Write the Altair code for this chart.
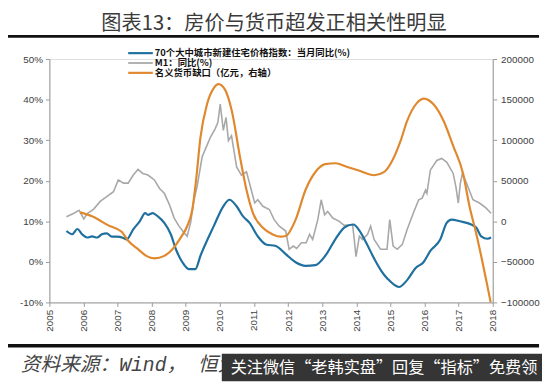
import altair as alt
import pandas as pd

TITLE = "图表13：房价与货币超发正相关性明显"
SOURCE = "资料来源：Wind， 恒大研究院"
WATERMARK = "关注微信“老韩实盘”回复“指标”免费领"

NAME_HOUSE = "70个大中城市新建住宅价格指数：当月同比(%)"
NAME_M1 = "M1：同比(%)"
NAME_GAP = "名义货币缺口（亿元，右轴）"

COLOR_HOUSE = "#1f6f9f"
COLOR_M1 = "#a8a8a8"
COLOR_GAP = "#e0882e"

house_t = [2005.50, 2005.67, 2005.82, 2005.96, 2006.11, 2006.25, 2006.40, 2006.54, 2006.68, 2006.83,
           2006.97, 2007.17, 2007.26, 2007.46, 2007.65, 2007.81, 2007.89, 2008.03, 2008.18, 2008.37,
           2008.56, 2008.71, 2008.90, 2009.09, 2009.28, 2009.43, 2009.82, 2010.10, 2010.28, 2010.49,
           2010.68, 2010.87, 2011.11, 2011.35, 2011.64, 2011.93, 2012.22, 2012.51, 2012.80, 2013.09,
           2013.38, 2013.67, 2013.91, 2014.10, 2014.29, 2014.53, 2014.73, 2014.92, 2015.25, 2015.49,
           2015.74, 2015.97, 2016.17, 2016.46, 2016.65, 2016.79, 2017.04, 2017.37, 2017.52, 2017.66,
           2017.85, 2017.95]
house_v = [7.6, 6.8, 8.1, 6.8, 6.0, 6.3, 6.0, 6.8, 7.0, 6.2,
           6.2, 5.9, 5.5, 8.0, 10.0, 12.0, 11.6, 12.0, 11.2, 9.6,
           6.8, 3.1, -0.1, -1.8, -1.8, 1.5, 8.8, 13.7, 15.3, 13.7,
           11.2, 9.6, 6.3, 4.3, 3.9, 1.9, -0.1, -1.0, -0.8, 1.5,
           5.5, 8.6, 9.2, 7.6, 4.7, 0.7, -2.2, -4.2, -6.2, -4.5,
           -1.5, -0.1, 2.7, 5.5, 9.6, 10.4, 10.0, 9.2, 8.4, 6.3,
           5.7, 6.0]

m1_t = [2005.50, 2005.72, 2005.87, 2006.01, 2006.11, 2006.30, 2006.49, 2006.68, 2006.88, 2007.02,
        2007.17, 2007.31, 2007.46, 2007.60, 2007.74, 2007.89, 2008.08, 2008.23, 2008.37, 2008.52,
        2008.66, 2008.80, 2008.95, 2009.04, 2009.14, 2009.24, 2009.33, 2009.48, 2009.72, 2009.86,
        2009.94, 2010.01, 2010.10, 2010.18, 2010.25, 2010.34, 2010.49, 2010.63, 2010.78, 2010.92,
        2011.02, 2011.11, 2011.26, 2011.45, 2011.59, 2011.74, 2011.93, 2012.03, 2012.15, 2012.25,
        2012.39, 2012.53, 2012.63, 2012.72, 2012.87, 2012.97, 2013.07, 2013.16, 2013.31, 2013.50,
        2013.64, 2013.89, 2013.94, 2013.99, 2014.09, 2014.18, 2014.33, 2014.42, 2014.52, 2014.71,
        2014.90, 2014.98, 2015.08, 2015.20, 2015.35, 2015.49, 2015.69, 2015.83, 2015.93, 2016.03,
        2016.07, 2016.17, 2016.36, 2016.50, 2016.65, 2016.84, 2016.92, 2016.99, 2017.05, 2017.11,
        2017.23, 2017.42, 2017.61, 2017.80, 2017.95]
m1_v = [11.1, 12.0, 12.7, 10.6, 11.9, 13.0, 14.9, 16.1, 17.3, 20.2,
        19.4, 19.4, 21.4, 22.8, 21.8, 21.4, 20.2, 18.1, 16.9, 14.1,
        10.8, 8.8, 7.2, 6.3, 9.6, 15.3, 18.5, 25.9, 30.7, 32.8,
        34.4, 38.9, 32.4, 35.6, 29.9, 31.1, 23.4, 21.4, 22.2, 17.7,
        14.5, 15.3, 13.7, 12.9, 10.4, 8.8, 7.6, 3.1, 3.9, 3.3,
        4.7, 4.7, 6.8, 5.5, 10.4, 15.3, 11.6, 12.4, 10.8, 10.0,
        9.0, 9.2, 5.5, 1.3, 6.3, 5.5, 6.8, 8.8, 5.5, 3.1,
        3.1, 10.4, 3.9, 3.1, 4.3, 8.0, 12.4, 15.3, 15.7, 17.7,
        16.9, 22.6, 25.0, 25.5, 24.6, 21.8, 18.5, 14.5, 19.4, 21.8,
        19.4, 15.3, 14.5, 13.3, 12.0]

gap_t = [2005.90, 2006.25, 2006.73, 2007.12, 2007.31, 2007.60, 2007.84, 2008.08, 2008.37, 2008.61,
         2008.85, 2009.04, 2009.19, 2009.30, 2009.43, 2009.62, 2009.82, 2009.96, 2010.15, 2010.35,
         2010.59, 2010.78, 2010.97, 2011.26, 2011.55, 2011.79, 2011.93, 2012.22, 2012.51, 2012.80,
         2013.09, 2013.40, 2013.70, 2014.05, 2014.53, 2014.82, 2015.06, 2015.30, 2015.49, 2015.78,
         2015.98, 2016.27, 2016.56, 2016.84, 2017.13, 2017.32, 2017.51, 2017.66, 2017.80, 2017.94]
gap_v = [11000, 6100, -5000, -13000, -24000, -34400, -42600, -45700, -42600, -34400,
         -20200, -6100, 14200, 50000, 103400, 144000, 164200, 169100, 162300, 135900,
         79100, 38600, 10200, -8000, -16200, -19000, -18200, 2000, 38600, 60800,
         70500, 71500, 67500, 62900, 56800, 60800, 75100, 99400, 123700, 146000,
         151300, 144000, 123700, 93000, 58900, 18200, -14100, -42600, -70900, -100000]

left_ticks = [-10, 0, 10, 20, 30, 40, 50]
right_ticks = [-100000, -50000, 0, 50000, 100000, 150000, 200000]
year_ticks = list(range(2005, 2019))

house_df = pd.DataFrame({"t": house_t, "v": house_v})
m1_df = pd.DataFrame({"t": m1_t, "v": m1_v})
gap_df = pd.DataFrame({"t": gap_t, "v": gap_v})

AX_FONT = "Liberation Sans"
CJK = "Noto Sans CJK SC"
AX_COLOR = "#9a9a9a"
LBL_COLOR = "#404040"

x_axis = alt.Axis(values=year_ticks, format="d", labelAngle=270, title=None, grid=False,
                  tickSize=4, labelPadding=3, labelFontSize=10, labelFont=AX_FONT,
                  labelColor=LBL_COLOR, domainColor=AX_COLOR, tickColor=AX_COLOR,
                  labelFlush=False, labelOverlap=False)
x_enc = alt.X("t:Q", scale=alt.Scale(domain=[year_ticks[0], year_ticks[-1]], nice=False, zero=False),
              axis=x_axis)

left_scale = alt.Scale(domain=[left_ticks[0], left_ticks[-1]], nice=False, zero=False)
left_axis = alt.Axis(values=left_ticks, labelExpr="datum.value + '%'", orient="left", title=None,
                     grid=False, tickSize=4, labelPadding=3, labelFontSize=10, labelFont=AX_FONT,
                     labelColor=LBL_COLOR, domainColor=AX_COLOR, tickColor=AX_COLOR,
                     labelFlush=False, labelOverlap=False)
right_axis = alt.Axis(values=right_ticks, format="d", orient="right", title=None,
                      grid=False, tickSize=4, labelPadding=4, labelFontSize=10, labelFont=AX_FONT,
                      labelColor=LBL_COLOR, domainColor=AX_COLOR, tickColor=AX_COLOR,
                      labelFlush=False, labelOverlap=False)

m1_line = alt.Chart(m1_df).mark_line(color=COLOR_M1, strokeWidth=1.6).encode(
    x=x_enc, y=alt.Y("v:Q", scale=left_scale, axis=None))
house_line = alt.Chart(house_df).mark_line(color=COLOR_HOUSE, strokeWidth=2.2, interpolate="monotone").encode(
    x=x_enc, y=alt.Y("v:Q", scale=left_scale, axis=left_axis))
gap_line = alt.Chart(gap_df).mark_line(color=COLOR_GAP, strokeWidth=2.2, interpolate="monotone").encode(
    x=x_enc, y=alt.Y("v:Q", scale=alt.Scale(domain=[right_ticks[0], right_ticks[-1]], nice=False, zero=False),
                     axis=right_axis))

one = pd.DataFrame({"k": [0]})

def text_layer(txt, x, y, **kw):
    return alt.Chart(pd.DataFrame({"label": [txt]})).mark_text(**kw).encode(
        x=alt.value(x), y=alt.value(y), text="label:N")

title = text_layer(TITLE, 228, -35, align="center", baseline="middle", fontSize=20.5,
                   font=CJK, color="#3a3a3a")
top_rule = alt.Chart(one).mark_rule(color="#111111", strokeWidth=3).encode(
    x=alt.value(-45), x2=alt.value(497), y=alt.value(-23))
bottom_rule = alt.Chart(one).mark_rule(color="#111111", strokeWidth=3.5).encode(
    x=alt.value(-45), x2=alt.value(497), y=alt.value(291))

legend_layers = []
for i, (nm, col, sw) in enumerate([(NAME_HOUSE, COLOR_HOUSE, 2.2), (NAME_M1, COLOR_M1, 1.8), (NAME_GAP, COLOR_GAP, 2.2)]):
    yy = -6 + i * 10
    legend_layers.append(alt.Chart(one).mark_rule(color=col, strokeWidth=sw).encode(
        x=alt.value(80), x2=alt.value(105), y=alt.value(yy)))
    legend_layers.append(text_layer(nm, 107, yy, align="left", baseline="middle", fontSize=9.5,
                                    fontWeight="bold", font=CJK, color="#111111"))

source = text_layer(SOURCE, -29, 311, align="left", baseline="middle", fontSize=20,
                    font="Liberation Mono, " + CJK, fontStyle="italic", color="#444444")
wm_box = alt.Chart(one).mark_rect(color="#353535").encode(
    x=alt.value(175), x2=alt.value(500), y=alt.value(299), y2=alt.value(327))
wm_text = text_layer(WATERMARK, 184, 314, align="left", baseline="middle", fontSize=16.4,
                     font=CJK, color="#ffffff")

chart = alt.layer(
    m1_line, house_line, gap_line,
    title, top_rule, bottom_rule, *legend_layers, source, wm_box, wm_text
).resolve_scale(y="independent").properties(
    width=450, height=247,
    autosize=alt.AutoSizeParams(type="none"),
    padding={"left": 42, "top": 49, "right": 50, "bottom": 80},
).configure_view(stroke=None).configure(background="white")

chart.save("out.html", embed_options={"renderer": "svg", "actions": False})
